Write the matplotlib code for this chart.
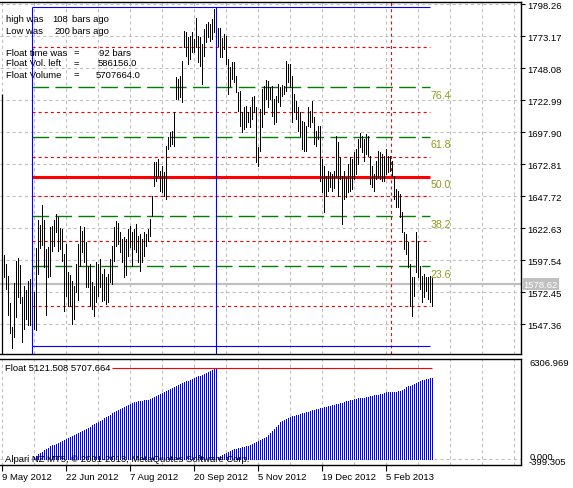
import numpy as np
import matplotlib
matplotlib.use('Agg')
import matplotlib.pyplot as plt

plt.rcParams['font.family'] = ['Liberation Sans', 'DejaVu Sans']
plt.rcParams['lines.scale_dashes'] = False

# daily bars, oldest first
bar_high = [
    1601.5, 1594.4, 1585.0, 1563.9, 1545.0, 1579.5, 1596.8, 1599.1, 1593.7,
    1568.6, 1577.2, 1574.1, 1581.1, 1582.7, 1567.0, 1572.5, 1607.0, 1628.9, 1625.0,
    1640.7, 1628.9, 1606.2, 1607.8, 1623.4, 1624.2, 1628.9, 1633.6, 1631.3, 1622.7,
    1621.9, 1602.3, 1610.1, 1588.2, 1585.8, 1581.1, 1577.2, 1594.4, 1610.1, 1624.2,
    1620.3, 1623.4, 1611.7, 1592.9, 1594.4, 1580.3, 1577.2, 1596.0, 1594.4, 1598.4,
    1586.6, 1590.5, 1584.2, 1586.6, 1598.4, 1608.6, 1623.4, 1628.2, 1626.6, 1619.5,
    1614.0, 1615.6, 1614.0, 1621.9, 1624.2, 1619.5, 1621.9, 1625.8, 1616.4, 1618.0,
    1614.0, 1619.5, 1618.0, 1621.9, 1629.7, 1647.8, 1674.4, 1674.4, 1676.8, 1667.4,
    1671.3, 1666.6, 1687.0, 1694.0, 1697.9, 1698.7, 1713.6, 1741.0, 1739.5, 1741.8,
    1753.6, 1777.1, 1776.3, 1772.4, 1773.2, 1776.3, 1770.8, 1787.3, 1773.2, 1772.4,
    1766.9, 1778.7, 1782.6, 1784.2, 1782.6, 1786.5, 1794.4, 1795.7, 1779.5, 1779.5,
    1771.6, 1774.8, 1773.2, 1755.2, 1748.9, 1752.8, 1752.8, 1741.8, 1729.3, 1730.1,
    1713.6, 1717.5, 1718.3, 1713.6, 1717.5, 1725.4, 1726.2, 1717.5, 1686.2, 1716.0,
    1731.6, 1734.0, 1738.7, 1737.9, 1733.2, 1734.0, 1723.8, 1726.2, 1735.6, 1733.2,
    1734.8, 1734.0, 1753.6, 1751.2, 1751.2, 1741.8, 1727.7, 1722.2, 1717.5, 1713.6,
    1706.6, 1705.8, 1702.6, 1717.5, 1714.4, 1722.2, 1709.7, 1698.7, 1702.6, 1702.6,
    1676.8, 1671.3, 1663.4, 1667.4, 1666.6, 1665.0, 1667.4, 1694.8, 1690.1, 1678.3,
    1663.4, 1667.4, 1662.6, 1672.8, 1678.3, 1676.8, 1682.2, 1684.6, 1692.4, 1697.1,
    1694.8, 1692.4, 1696.4, 1694.8, 1679.1, 1671.3, 1665.0, 1675.2, 1683.0, 1682.2,
    1680.7, 1679.1, 1684.6, 1679.1, 1679.1, 1675.2, 1663.4, 1653.2, 1651.7, 1649.3,
    1635.2, 1619.5, 1618.0, 1611.7, 1594.4, 1584.2, 1584.2, 1619.5, 1612.5, 1592.9,
    1585.0, 1586.6, 1584.2, 1584.2, 1585.0, 1583.5,
]
bar_low = [
    1584.2, 1574.8, 1554.5, 1540.3, 1528.6, 1537.2, 1552.9, 1568.6, 1563.9,
    1533.3, 1543.5, 1551.3, 1546.6, 1546.6, 1530.3, 1543.5, 1542.7, 1586.6, 1607.0,
    1609.3, 1592.1, 1554.5, 1584.2, 1585.0, 1604.6, 1608.6, 1619.5, 1604.6, 1606.2,
    1596.8, 1557.6, 1569.4, 1561.5, 1561.5, 1547.4, 1551.3, 1572.5, 1566.2, 1592.9,
    1603.8, 1596.0, 1576.4, 1576.4, 1561.5, 1559.2, 1553.7, 1564.6, 1569.4, 1576.4,
    1565.4, 1566.2, 1563.1, 1564.6, 1580.3, 1578.8, 1596.8, 1608.6, 1610.1, 1603.8,
    1596.0, 1584.2, 1585.8, 1600.7, 1607.8, 1592.9, 1606.2, 1603.8, 1596.0, 1589.0,
    1596.0, 1600.7, 1608.6, 1612.5, 1616.4, 1632.1, 1655.6, 1659.5, 1663.4, 1651.7,
    1650.9, 1647.8, 1645.4, 1684.6, 1687.0, 1688.5, 1687.0, 1723.8, 1723.8, 1725.4,
    1721.4, 1764.6, 1757.5, 1751.2, 1755.2, 1760.6, 1760.6, 1764.6, 1752.8, 1749.7,
    1735.6, 1757.5, 1768.5, 1772.4, 1769.3, 1770.8, 1776.3, 1778.7, 1765.4, 1756.7,
    1756.7, 1763.0, 1751.2, 1727.7, 1734.0, 1739.5, 1737.1, 1729.3, 1714.4, 1702.6,
    1697.9, 1700.3, 1701.8, 1705.8, 1701.8, 1708.1, 1713.6, 1674.4, 1671.3, 1683.0,
    1701.8, 1712.0, 1723.8, 1717.5, 1723.8, 1710.5, 1704.2, 1705.8, 1721.4, 1718.3,
    1726.2, 1727.7, 1730.1, 1737.1, 1733.2, 1705.8, 1713.6, 1708.1, 1698.7, 1694.8,
    1684.6, 1683.0, 1683.0, 1702.6, 1701.8, 1705.8, 1688.5, 1687.0, 1692.4, 1659.5,
    1650.9, 1635.2, 1647.8, 1651.7, 1654.8, 1651.7, 1654.0, 1662.6, 1647.8, 1661.1,
    1625.8, 1645.4, 1647.0, 1650.9, 1651.7, 1653.2, 1661.1, 1665.0, 1672.8, 1686.2,
    1682.2, 1675.2, 1680.7, 1679.1, 1657.2, 1654.8, 1651.7, 1661.1, 1662.6, 1661.1,
    1659.5, 1659.5, 1665.0, 1666.6, 1667.4, 1663.4, 1645.4, 1639.1, 1639.1, 1631.3,
    1619.5, 1606.2, 1602.3, 1592.1, 1561.5, 1553.7, 1569.4, 1588.2, 1584.2, 1574.8,
    1564.6, 1568.6, 1573.3, 1567.0, 1564.6, 1561.5,
]
first_bar = 1

# Float indicator histogram (thousands), starts at bar 16
float_start = 16
float_volume = [
    110, 190, 290, 370, 450, 540, 620, 700, 790,
    840, 890, 950, 1000, 1060, 1110, 1170, 1230,
    1290, 1350, 1410, 1480, 1540, 1600, 1670, 1730,
    1800, 1870, 1950, 2020, 2100, 2170, 2250, 2320, 2390,
    2470, 2550, 2630, 2710, 2790, 2870, 2950, 3030,
    3090, 3150, 3210, 3280, 3340, 3400, 3460, 3520,
    3560, 3590, 3620, 3640, 3670, 3690, 3720, 3740, 3770,
    3840, 3900, 3970, 4030, 4100, 4160, 4230, 4290,
    4350, 4420, 4480, 4540, 4600, 4660, 4730, 4790,
    4840, 4890, 4940, 4990, 5050, 5100, 5150, 5200, 5260, 5310,
    5370, 5420, 5480, 5540, 5590, 5650, 5707.664,
    90, 160, 230, 300, 370, 430, 500, 570,
    610, 640, 670, 700, 730, 760, 790, 820, 850,
    910, 980, 1040, 1100, 1170, 1230, 1300, 1360,
    1490, 1610, 1740, 1870, 1990, 2150, 2310,
    2380, 2450, 2520, 2590, 2660, 2690, 2720, 2750, 2790, 2820,
    2860, 2900, 2940, 2980, 3030, 3060, 3100, 3130, 3160, 3200,
    3230, 3260, 3280, 3310, 3340, 3380, 3410, 3440, 3480, 3510,
    3550, 3590, 3640, 3680, 3720, 3740, 3760, 3790, 3810, 3830,
    3850, 3870, 3890, 3920, 3940, 3970, 4000, 4030, 4050, 4080,
    4120, 4150, 4190, 4200, 4210, 4220, 4225, 4240, 4265, 4290,
    4360, 4430, 4510, 4570, 4630, 4690, 4750, 4810, 4870, 4925,
    4960, 5000, 5030, 5060, 5090, 5121.508,
]
float_prev = 5707.664
float_now = 5121.508
float_line_from = 55

price_ticks = [1798.26, 1773.17, 1748.08, 1722.99, 1697.90, 1672.81,
               1647.72, 1622.63, 1597.54, 1572.45, 1547.36]
current_price = 1578.62
date_pos = [0, 32, 64, 96, 128, 160, 192]
date_labels = ['9 May 2012', '22 Jun 2012', '7 Aug 2012', '20 Sep 2012',
               '5 Nov 2012', '19 Dec 2012', '5 Feb 2013']
fib_ratios = [0.236, 0.382, 0.5, 0.618, 0.764]
fib_labels = ['23.6', '38.2', '50.0', '61.8', '76.4']
lookback = 200
high_ago = 108
float_bars = 92
marker_bar = 194.25

n = len(bar_high)
x = np.arange(first_bar, first_bar + n)
last = x[-1]
i_low = last - lookback
i_high = last - high_ago
hi = max(bar_high[i_low - first_bar:])
lo = min(bar_low[i_low - first_bar:])
fib_end = last - 0.8

W, H = 573, 489
fig = plt.figure(figsize=(W / 100, H / 100), dpi=100)
ax = fig.add_axes([0, (H - 355) / H, 520.5 / W, 352 / H])
ax2 = fig.add_axes([0, (H - 466) / H, 520.5 / W, 106 / H])

dot = (0, (2.2, 2.2))
grid_kw = dict(color='#bdbdbd', lw=0.75, linestyle=dot, zorder=0)
for a in (ax, ax2):
    a.set_xlim(-1, 259.25)
    for g in range(0, 260, 16):
        a.axvline(g, **grid_kw)
    a.spines['left'].set_visible(False)
    for s in ['top', 'bottom', 'right']:
        a.spines[s].set_linewidth(1.0)

ymin, ymax = 1523.84, 1799.83
ax.set_ylim(ymin, ymax)
for p in price_ticks:
    ax.axhline(p, **grid_kw)
ax.vlines(0.15, ymin, 1727.7, color='black', lw=0.9, zorder=3)

# current price line
ax.axhline(current_price, color='#c0c0c0', lw=1.6, zorder=1)

# bars
ax.vlines(x, bar_low, bar_high, color='black', lw=0.55, antialiased=False, zorder=3)

# fibo levels
levels = [lo + r * (hi - lo) for r in fib_ratios]
edges = [0] + fib_ratios + [1]
for a_, b_ in zip(edges[:-1], edges[1:]):
    m = lo + (a_ + b_) / 2 * (hi - lo)
    ax.hlines(m, i_low, fib_end, color='red', lw=0.8, linestyle=dot, zorder=2)
for r, lvl, lab in zip(fib_ratios, levels, fib_labels):
    if r == 0.5:
        ax.hlines(lvl, i_low, fib_end, color='red', lw=2.2, zorder=2)
    else:
        ax.hlines(lvl, i_low, fib_end, color='#008000', lw=1.0,
                  linestyle=(0, (12, 4.5)), zorder=2)
    ax.annotate(lab, (fib_end, lvl), xytext=(0, -2), textcoords='offset points',
                va='top', ha='left', fontsize=7.6, color='#8f9a1c', zorder=5)

# high / low box
ax.hlines([hi, lo], i_low, fib_end, color='#0000ff', lw=0.8, zorder=4)
ax.vlines([i_low, i_high], ymin, hi, color='#0000ff', lw=0.8, zorder=4)
ax.axvline(marker_bar, color='red', lw=0.8, linestyle=dot, zorder=2)

ax.yaxis.tick_right()
ax.set_yticks(price_ticks)
ax.set_yticklabels([f'{p:.2f}' for p in price_ticks])
ax.tick_params(axis='y', length=3, width=0.8, pad=2, labelsize=6.8)
ax.set_xticks([])
ax.text(1.0 + 3 / 520.5, current_price, f'{current_price:.2f}',
        transform=ax.get_yaxis_transform(), va='center', ha='left', fontsize=6.8,
        color='white', bbox=dict(boxstyle='square,pad=0.15', fc='#c0c0c0', ec='none'),
        clip_on=False, zorder=6)

# info text
info = [
    (20, [(6, 'high was'), (52, f'{high_ago}'), (72, 'bars ago')]),
    (32, [(6, 'Low was'), (54, f'{lookback}'), (72, 'bars ago')]),
    (53, [(6, 'Float time was'), (74, '='), (99, f'{float_bars} bars')]),
    (64, [(6, 'Float Vol. left'), (74, '='), (98, f'{(float_prev - float_now) * 1000:.1f}')]),
    (75, [(6, 'Float Volume'), (74, '='), (96, f'{float_prev * 1000:.1f}')]),
]
for yy, parts in info:
    for xx, s in parts:
        ax.text(xx / W, 1 - yy / H, s, transform=fig.transFigure, fontsize=6.8,
                va='center', ha='left', color='black', zorder=3)

# Float sub window
ax2.set_ylim(-399.305, 6306.969)
ax2.axhline(0, **grid_kw)
fx = np.arange(float_start, float_start + len(float_volume))
ax2.vlines(fx, 0, float_volume, color='#0000ff', lw=0.55, antialiased=False, zorder=2)
ax2.hlines(float_prev, float_line_from, last, color='red', lw=0.8, zorder=2)
ax2.text(5 / W, 1 - 369 / H, f'Float {float_now:.3f} {float_prev:.3f}',
         transform=fig.transFigure, fontsize=6.8, va='center', ha='left')
ax2.text(5 / W, 1 - 460 / H, 'Alpari NZ MT5, \u00a9 2001-2013, MetaQuotes Software Corp.',
         transform=fig.transFigure, fontsize=6.8, va='center', ha='left', zorder=5)
ax2.set_yticks([])
ax2.text(1.0 + 9 / 520.5, 1 - 4 / 106, '6306.969', transform=ax2.transAxes,
         fontsize=6.8, va='center', ha='left')
ax2.text(1.0 + 9 / 520.5, 1 - 97.5 / 106, '0.000', transform=ax2.transAxes,
         fontsize=6.8, va='center', ha='left')
ax2.text(1.0 + 8 / 520.5, 1 - 103 / 106, '-399.305', transform=ax2.transAxes,
         fontsize=6.8, va='center', ha='left')
ax2.set_xticks(date_pos)
ax2.set_xticklabels(date_labels, ha='left')
ax2.tick_params(axis='x', length=4, width=0.8, pad=1, labelsize=6.8)

fig.savefig('out.png', dpi=100)
